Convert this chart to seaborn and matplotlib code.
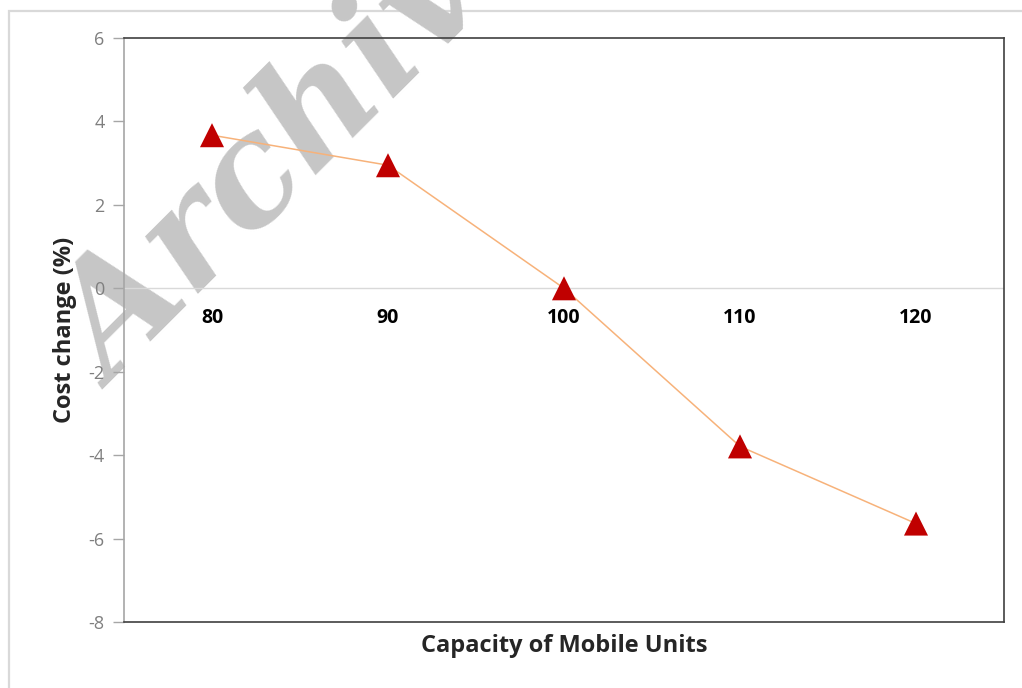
import pandas as pd
import matplotlib
matplotlib.use("Agg")
import matplotlib.pyplot as plt
import matplotlib.patches as patches
import seaborn as sns

capacity = ["80", "90", "100", "110", "120"]
cost_change = [3.67, 2.95, 0.0, -3.79, -5.64]
y_ticks = [-8, -6, -4, -2, 0, 2, 4, 6]

df = pd.DataFrame({"capacity": capacity, "cost": cost_change})

sns.set_style("white")
plt.rcParams['font.family'] = ['Open Sans', 'DejaVu Sans']

fig = plt.figure(figsize=(10.22, 6.88), dpi=100)
ax = fig.add_axes([124/1022, 1-622/688, (1004-124)/1022, (622-38)/688])
ax.patch.set_facecolor('none')

# outer chart frame
fig.patches.append(patches.Rectangle((9/1022, -0.05), 1.1, 1-11/688+0.05, transform=fig.transFigure,
                                     fill=False, edgecolor='#d9d9d9', linewidth=1.6, zorder=-2))

ax.axhline(0, color='#d9d9d9', linewidth=1, zorder=1)
sns.lineplot(data=df, x="capacity", y="cost", color='#f7b27a', linewidth=1.1, ax=ax, zorder=2)
sns.scatterplot(data=df, x="capacity", y="cost", marker='^', s=300, color='#c00000',
                edgecolor='none', ax=ax, zorder=3)

ax.set_xlim(-0.5, 4.5)
ax.set_ylim(-8, 6)
ax.set_yticks(y_ticks)
ax.set_yticklabels([str(t) for t in y_ticks], color='#7f7f7f', fontsize=13)
ax.tick_params(axis='y', direction='out', length=8, width=1, color='#a6a6a6', pad=6, left=True)
ax.set_xticks([])
ax.set_xlabel("Capacity of Mobile Units", fontsize=17, fontweight='bold', labelpad=9)
ax.set_ylabel("Cost change (%)", fontsize=17, fontweight='bold', labelpad=8)

for s in ['top', 'right', 'bottom']:
    ax.spines[s].set_color('#404040')
    ax.spines[s].set_linewidth(1.2)
ax.spines['left'].set_color('#a6a6a6')
ax.spines['left'].set_linewidth(1.2)

# category labels sit next to the zero line
sec = ax.secondary_xaxis(8/14)
sec.xaxis.set_ticks_position('bottom')
sec.set_xticks(range(len(capacity)))
sec.set_xticklabels(capacity, fontsize=14, fontweight='bold', color='black')
sec.tick_params(length=0, pad=14)
for s in sec.spines.values():
    s.set_visible(False)

# watermark
fig.text(114/1022, 1-390/688, "Archive", family='DejaVu Serif', fontsize=108,
         fontweight='bold', fontstyle='italic', color='#c6c6c6',
         rotation=45, rotation_mode='anchor', ha='left', va='baseline', zorder=-1)

fig.savefig("out.png", dpi=100)
